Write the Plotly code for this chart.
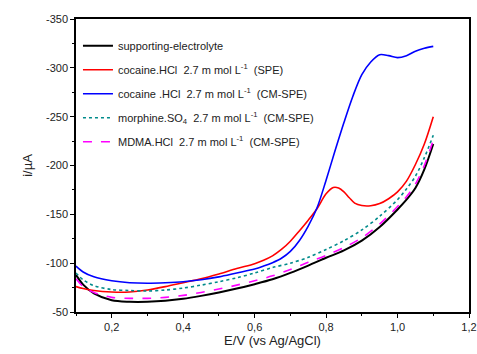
import plotly.graph_objects as go

# Potential (V vs Ag/AgCl) and current (µA)
E_se = [0.10, 0.12, 0.15, 0.20, 0.25, 0.30, 0.35, 0.40, 0.45, 0.50, 0.55, 0.60, 0.65, 0.70, 0.75, 0.80, 0.85, 0.90, 0.95, 1.00, 1.025, 1.05, 1.075, 1.10]
I_se = [-88, -78, -69, -62, -60.5, -60.5, -61.5, -63.5, -66.5, -70, -74, -78.5, -83.5, -90, -97.5, -105.5, -113, -123, -137, -155, -165, -177, -196, -222]

E_mdma = E_se
I_mdma = [-84, -76, -70, -65, -64, -64, -65, -67, -70, -73.5, -77.5, -82, -87, -93.5, -101, -108, -116, -126, -140, -158, -168, -181, -200, -226]

E_morph = E_se
I_morph = [-90, -83, -77, -73, -72, -71.5, -72.5, -74.5, -77.5, -81, -85, -90, -95.5, -100, -106, -114, -123, -134, -148, -165, -176, -189, -208, -231]

E_coc_spe = [0.10, 0.12, 0.15, 0.20, 0.25, 0.30, 0.35, 0.40, 0.45, 0.50, 0.55, 0.60, 0.625, 0.65, 0.675, 0.70, 0.725, 0.75, 0.775, 0.80, 0.82, 0.835, 0.85, 0.865, 0.88, 0.90, 0.925, 0.95, 0.975, 1.00, 1.025, 1.05, 1.075, 1.10]
I_coc_spe = [-76, -74, -72, -70.5, -70.5, -72.5, -76, -80, -84, -89, -94.5, -99.5, -103, -107.5, -114, -122.5, -133, -144, -156, -171, -177.5, -177, -173, -167, -161.5, -159, -158.8, -161, -166, -173, -184, -201, -222, -250]

E_coc_cm = [0.10, 0.12, 0.15, 0.20, 0.25, 0.30, 0.35, 0.40, 0.45, 0.50, 0.55, 0.60, 0.625, 0.65, 0.675, 0.70, 0.725, 0.75, 0.775, 0.80, 0.825, 0.85, 0.875, 0.90, 0.925, 0.95, 0.975, 1.00, 1.025, 1.05, 1.075, 1.10]
I_coc_cm = [-97, -91, -86, -82, -80, -79.5, -80, -81, -83, -86, -90, -94, -97, -100.5, -105, -112, -123, -138, -157, -185, -215, -244, -271, -293, -306, -313.5, -312.5, -310.5, -312.5, -317, -320, -322]

names = [
    "supporting-electrolyte",
    "cocaine.HCl  2.7 m mol L<sup>-1</sup>  (SPE)",
    "cocaine .HCl  2.7 m mol L<sup>-1</sup>  (CM-SPE)",
    "morphine.SO<sub>4</sub>  2.7 m mol L<sup>-1</sup>  (CM-SPE)",
    "MDMA.HCl  2.7 m mol L<sup>-1</sup>  (CM-SPE)",
]

x_ticks = [0.2, 0.4, 0.6, 0.8, 1.0, 1.2]
x_ticklabels = ["0,2", "0,4", "0,6", "0,8", "1,0", "1,2"]
y_ticks = [-350, -300, -250, -200, -150, -100, -50]
y_ticklabels = ["-350", "-300", "-250", "-200", "-150", "-100", "-50"]

series = [
    (E_se, I_se, "black", "solid", 2),
    (E_coc_spe, I_coc_spe, "#ff0000", "solid", 1.6),
    (E_coc_cm, I_coc_cm, "#0000ff", "solid", 1.6),
    (E_morph, I_morph, "#008b8b", "dot", 1.6),
    (E_mdma, I_mdma, "#ff00ff", "dash", 1.6),
]

fig = go.Figure()
for i, (x, y, c, d, w) in enumerate(series):
    fig.add_trace(go.Scatter(
        x=x, y=y, mode="lines", name=names[i],
        line=dict(color=c, dash=d, width=w, shape="spline", smoothing=0.9),
        legendgroup=str(i),
    ))

font_family = "Liberation Sans, Arial, sans-serif"
fig.update_layout(
    width=477, height=354,
    margin=dict(l=76, r=8, t=19, b=42, autoexpand=False),
    plot_bgcolor="white", paper_bgcolor="white",
    font=dict(family=font_family, size=11, color="#222"),
    showlegend=True,
    legend=dict(
        x=0.005, y=0.958, xanchor="left", yanchor="top",
        bgcolor="rgba(0,0,0,0)", font=dict(size=11, color="#222"),
        itemwidth=30, tracegroupgap=5,
    ),
    xaxis=dict(
        range=[0.1, 1.2], tickvals=x_ticks, ticktext=x_ticklabels,
        automargin=False,
        showgrid=False, zeroline=False, showline=True, linecolor="black",
        linewidth=1.5, mirror=True, ticks="outside", ticklen=4,
        tickcolor="black", tickfont=dict(size=11, color="#222"),
        minor=dict(dtick=0.1, tick0=0.1, ticks="outside", ticklen=2.5, tickcolor="black"),
        title=dict(text="E/V (vs Ag/AgCl)", font=dict(size=13, color="#222"), standoff=4),
    ),
    yaxis=dict(
        range=[-50, -350], tickvals=y_ticks, ticktext=y_ticklabels,
        automargin=False,
        showgrid=False, zeroline=False, showline=True, linecolor="black",
        linewidth=1.5, mirror=True, ticks="outside", ticklen=4,
        tickcolor="black", tickfont=dict(size=11, color="#222"),
        minor=dict(dtick=25, tick0=-50, ticks="outside", ticklen=2.5, tickcolor="black"),
        title=dict(text="i/µA", font=dict(size=13, color="#222"), standoff=10),
    ),
)

fig.write_html("out.html", config={"displayModeBar": False},
               post_script="document.body.style.margin='0';")
